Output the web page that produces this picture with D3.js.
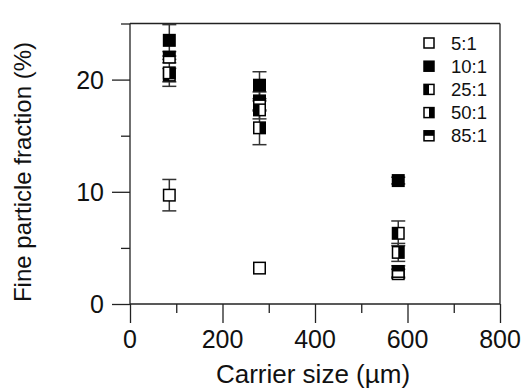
<!DOCTYPE html>
<html><head><meta charset="utf-8">
<script src="https://cdn.jsdelivr.net/npm/d3@7"></script>
<style>body{margin:0;background:#fff}svg{display:block}text{font-family:"Liberation Sans",Arial,sans-serif;fill:#111}</style>
</head><body><svg id="c" width="526" height="390"></svg>
<script>
const carrierSizes = [85, 280, 580];
const seriesNames = ["5:1", "10:1", "25:1", "50:1", "85:1"];
const seriesFill = ["none", "full", "left", "right", "top"];
const values5 = [9.7, 3.2, 2.7];
const errors5 = [1.4, 0, 0.4];
const values10 = [23.5, 19.5, 11.0];
const errors10 = [1.4, 1.2, 0.3];
const values25 = [20.4, 17.3, 6.3];
const errors25 = [0.6, 0.8, 1.1];
const values50 = [20.6, 15.7, 4.6];
const errors50 = [1.2, 1.5, 0.8];
const values85 = [22.0, 18.1, 2.9];
const errors85 = [0.5, 0.8, 0.5];
const xTicks = [0, 200, 400, 600, 800];
const yTicks = [0, 10, 20];

const allValues = [values5, values10, values25, values50, values85];
const allErrors = [errors5, errors10, errors25, errors50, errors85];

const svg = d3.select("#c");
const x = d3.scaleLinear().domain([0, 800]).range([130, 500]);
const y = d3.scaleLinear().domain([0, 25]).range([304, 23.5]);
const ax = "#222";

// frame top and right
svg.append("line").attr("x1", x(0)).attr("x2", x(800)).attr("y1", y(25)).attr("y2", y(25)).attr("stroke", ax).attr("stroke-width", 1.3);
svg.append("line").attr("x1", x(800)).attr("x2", x(800)).attr("y1", y(25)).attr("y2", y(0)).attr("stroke", ax).attr("stroke-width", 1.3);

// x axis
const gx = svg.append("g").attr("transform", `translate(0,${y(0)})`);
gx.call(d3.axisBottom(x).tickValues(d3.range(0, 801, 100)).tickSize(9).tickFormat(""));
gx.selectAll(".tick line").filter(d => d % 200 === 0).attr("y2", 19);
gx.selectAll("line,path").attr("stroke", ax).attr("stroke-width", 1.3);
gx.select(".domain").remove();
gx.append("line").attr("x1", x(0)).attr("x2", x(800)).attr("stroke", ax).attr("stroke-width", 1.3);
svg.selectAll(".xl").data(xTicks).join("text").attr("class", "xl")
  .attr("x", d => x(d)).attr("y", 348).attr("text-anchor", "middle").attr("font-size", 25).text(d => d);

// y axis
const gy = svg.append("g").attr("transform", `translate(${x(0)},0)`);
gy.call(d3.axisLeft(y).tickValues(d3.range(0, 26, 5)).tickSize(9).tickFormat(""));
gy.selectAll(".tick line").filter(d => d % 10 === 0).attr("x2", -18);
gy.selectAll("line,path").attr("stroke", ax).attr("stroke-width", 1.3);
gy.select(".domain").remove();
gy.append("line").attr("y1", y(0)).attr("y2", y(25)).attr("stroke", ax).attr("stroke-width", 1.3);
svg.selectAll(".yl").data(yTicks).join("text").attr("class", "yl")
  .attr("x", 104).attr("y", d => y(d) + 9).attr("text-anchor", "end").attr("font-size", 25).text(d => d);

// titles
svg.append("text").attr("x", 313).attr("y", 383).attr("text-anchor", "middle").attr("font-size", 26).text("Carrier size (µm)");
svg.append("text").attr("transform", "translate(31,172) rotate(-90)").attr("text-anchor", "middle").attr("font-size", 24).text("Fine particle fraction (%)");

// marker drawing
const S = 11.5;
function marker(g, cx, cy, kind, s) {
  s = s || S;
  const m = g.append("g").attr("transform", `translate(${cx},${cy})`);
  m.append("rect").attr("x", -s/2).attr("y", -s/2).attr("width", s).attr("height", s).attr("fill", "#fff");
  let fx = -s/2, fy = -s/2, fw = s, fh = s;
  if (kind === "left") fw = s/2;
  else if (kind === "right") { fx = 0; fw = s/2; }
  else if (kind === "top") fh = s/2;
  if (kind !== "none") m.append("rect").attr("x", fx).attr("y", fy).attr("width", fw).attr("height", fh).attr("fill", "#000");
  m.append("rect").attr("x", -s/2).attr("y", -s/2).attr("width", s).attr("height", s).attr("fill", "none").attr("stroke", "#000").attr("stroke-width", 1.5);
}

// error bars
const eb = svg.append("g");
allValues.forEach((vals, si) => {
  vals.forEach((v, i) => {
    const e = allErrors[si][i];
    if (!e) return;
    const cx = x(carrierSizes[i]);
    eb.append("line").attr("x1", cx).attr("x2", cx).attr("y1", y(v + e)).attr("y2", y(v - e)).attr("stroke", "#333").attr("stroke-width", 1.5);
    [v + e, v - e].forEach(t => eb.append("line").attr("x1", cx - 7).attr("x2", cx + 7).attr("y1", y(t)).attr("y2", y(t)).attr("stroke", "#333").attr("stroke-width", 1.5));
  });
});

const mk = svg.append("g");
[0, 4, 2, 3, 1].forEach(si => {
  allValues[si].forEach((v, i) => marker(mk, x(carrierSizes[i]), y(v), seriesFill[si]));
});

// legend
const lg = svg.append("g");
seriesNames.forEach((n, i) => {
  const yy = 43 + i * 23.2;
  marker(lg, 429, yy, seriesFill[i], 10);
  lg.append("text").attr("x", 451).attr("y", yy + 6.5).attr("font-size", 18.5).text(n);
});
</script></body></html>
